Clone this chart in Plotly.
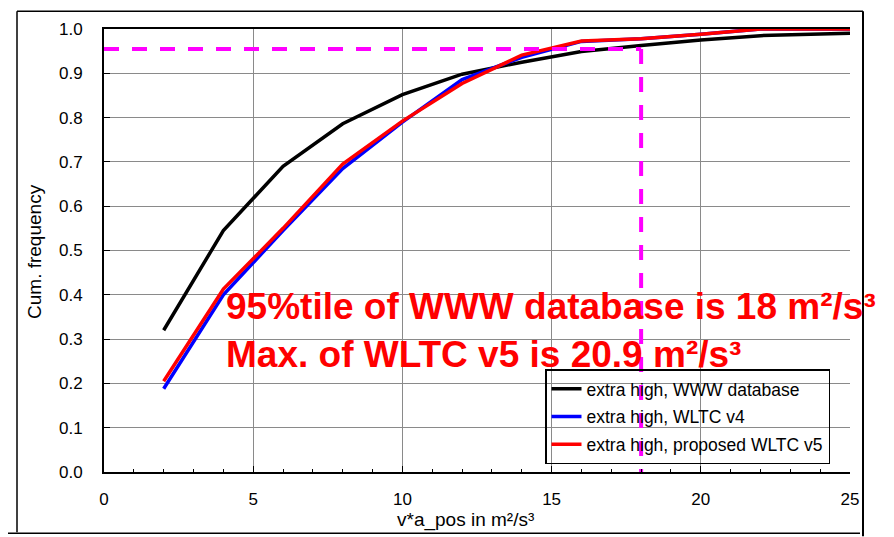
import plotly.graph_objects as go

# ---- data ----
x_bins = [2, 4, 6, 8, 10, 12, 14, 16, 18, 20, 22, 24, 26]
www_db = [0.320, 0.545, 0.690, 0.786, 0.852, 0.898, 0.925, 0.949, 0.963, 0.975, 0.985, 0.989, 0.992]
wltc_v4 = [0.188, 0.400, 0.545, 0.685, 0.790, 0.886, 0.936, 0.972, 0.978, 0.988, 1.000, 1.000, 1.000]
wltc_v5 = [0.205, 0.413, 0.550, 0.695, 0.792, 0.877, 0.941, 0.973, 0.978, 0.988, 1.000, 1.000, 1.000]
series_names = ["extra high, WWW database", "extra high, WLTC v4", "extra high, proposed WLTC v5"]
pct95_x = 18
pct95_y = 0.955
x_ticks = [0, 5, 10, 15, 20, 25]
y_ticks = [0.0, 0.1, 0.2, 0.3, 0.4, 0.5, 0.6, 0.7, 0.8, 0.9, 1.0]

FONT = "Liberation Sans, Arial, sans-serif"

fig = go.Figure()
colors = ["#000000", "#0000FF", "#FF0000"]
for name, ys, c, g in zip(series_names, [www_db, wltc_v4, wltc_v5], colors, ["a", "b", "c"]):
    fig.add_trace(go.Scatter(x=x_bins, y=ys, mode="lines", name=name, legendgroup=g,
                             line=dict(color=c, width=3.5)))

# magenta guide lines
fig.add_trace(go.Scatter(x=[0, pct95_x], y=[pct95_y, pct95_y], mode="lines", showlegend=False,
                         line=dict(color="#FF00FF", width=4, dash="15px,13px")))
fig.add_trace(go.Scatter(x=[pct95_x, pct95_x], y=[pct95_y, 0], mode="lines", showlegend=False,
                         line=dict(color="#FF00FF", width=4, dash="15px,13px")))

# page body has an 8px margin: figure pixel = window pixel - 8
OFF = 8
W, H = 894 - OFF, 537 - OFF
PL, PR, PT, PB = 104 - OFF, 850 - OFF, 23 - OFF, 472 - OFF   # plot area in figure px
L, R, T, B = PL, W - PR, PT, H - PB
pw, ph = PR - PL, PB - PT


def px_x(p):
    return (p - OFF - PL) / pw


def px_y(p):
    return (PB - (p - OFF)) / ph


shapes = [
    # white legend background (above grid, below traces)
    dict(type="rect", xref="paper", yref="paper", x0=px_x(545), x1=px_x(834), y0=px_y(459), y1=px_y(368),
         fillcolor="white", line=dict(width=0), layer="between"),
    # outer frame
    dict(type="line", xref="paper", yref="paper", x0=px_x(17), x1=px_x(17), y0=px_y(5), y1=px_y(533),
         line=dict(color="black", width=1.5)),
    dict(type="line", xref="paper", yref="paper", x0=px_x(17), x1=px_x(863), y0=px_y(5), y1=px_y(5),
         line=dict(color="black", width=1.5)),
    dict(type="line", xref="paper", yref="paper", x0=px_x(863), x1=px_x(863), y0=px_y(5), y1=px_y(537),
         line=dict(color="black", width=2)),
    dict(type="line", xref="paper", yref="paper", x0=px_x(8), x1=px_x(860), y0=px_y(534), y1=px_y(534),
         line=dict(color="black", width=1.5)),
]

annotations = [
    dict(text="95%tile of WWW database is 18 m²/s³<br>Max. of WLTC v5 is 20.9 m²/s³",
         xref="paper", yref="paper", x=px_x(224), y=px_y(329), xanchor="left", yanchor="middle",
         align="left", showarrow=False,
         font=dict(family=FONT, size=37, color="#FF0000", weight="bold")),
    dict(text="Cum. frequency", xref="paper", yref="paper", x=px_x(35), y=px_y(249),
         xanchor="center", yanchor="middle",
         textangle=-90, showarrow=False, font=dict(family=FONT, size=19, color="black")),
    dict(text="v*a_pos in m²/s³", xref="paper", yref="paper", x=px_x(465), y=px_y(521),
         xanchor="center", yanchor="middle",
         showarrow=False, font=dict(family=FONT, size=19, color="black")),
]

fig.update_layout(
    width=W, height=H,
    margin=dict(l=L, r=R, t=T, b=B),
    paper_bgcolor="white", plot_bgcolor="white",
    font=dict(family=FONT, size=17, color="black"),
    shapes=shapes, annotations=annotations,
    legend=dict(x=px_x(545), y=px_y(368), xanchor="left", yanchor="top",
                bgcolor="rgba(0,0,0,0)", bordercolor="black", borderwidth=1.5,
                font=dict(family=FONT, size=17.5, color="black"), tracegroupgap=2),
    xaxis=dict(range=[0, 25], tickvals=x_ticks, ticks="inside", ticklen=6, tickcolor="black",
               showgrid=True, gridcolor="#8a8a8a", gridwidth=1,
               showline=True, linecolor="black", linewidth=2, mirror=True,
               zeroline=False, ticklabelstandoff=11,
               minor=dict(dtick=1, ticks="inside", ticklen=3, tickcolor="black", showgrid=False)),
    yaxis=dict(range=[0, 1], tickvals=y_ticks, tickformat=".1f", ticks="inside", ticklen=6,
               tickcolor="black", showgrid=True, gridcolor="#8a8a8a", gridwidth=1,
               showline=True, linecolor="black", linewidth=2, zeroline=False,
               ticklabelstandoff=16),
)

fig.write_html("out.html")
